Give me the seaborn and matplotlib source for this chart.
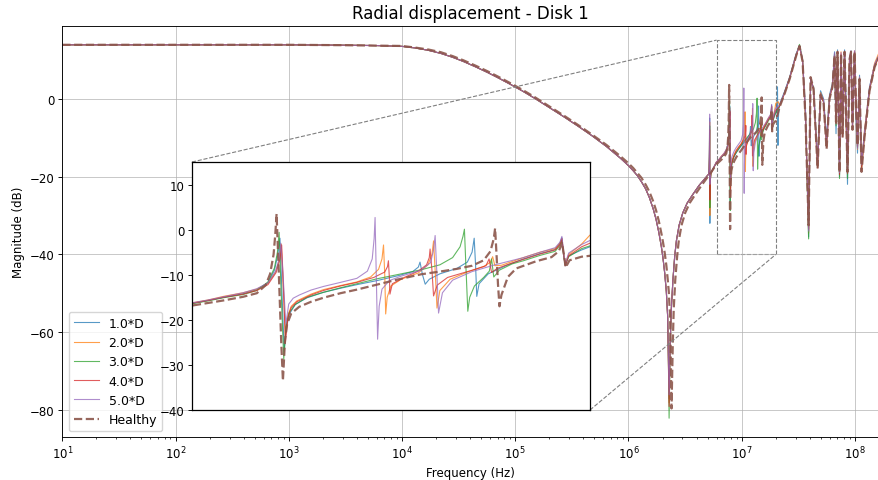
import seaborn as sns
import matplotlib.pyplot as plt
from mpl_toolkits.axes_grid1.inset_locator import mark_inset

# low-frequency plateau and roll-off
freq_low = [10, 100, 1e3, 3e3, 6e3, 1e4, 1.3e4, 1.7e4, 2.2e4, 2.8e4, 3.5e4, 4.5e4, 5.7e4,
            7.2e4, 9e4, 1.15e5, 1.5e5, 2e5, 2.7e5, 3.6e5, 4.8e5, 6.4e5, 8.5e5, 1e6, 1.1e6,
            1.2e6, 1.3e6, 1.42e6, 1.53e6, 1.65e6, 1.75e6, 1.85e6, 1.95e6, 2.02e6, 2.09e6,
            2.16e6, 2.22e6]
mag_low = [13.8, 13.8, 13.8, 13.7, 13.6, 13.4, 13.0, 12.4, 11.6, 10.6, 9.5, 8.1, 6.7,
           5.2, 3.7, 2.0, 0.0, -2.3, -4.7, -7.1, -9.6, -12.3, -15.3, -17.2, -18.5,
           -19.8, -21.3, -23.2, -25.4, -28.2, -30.9, -34.2, -37.9, -41.0, -44.8,
           -49.5, -56.0]
mag_low_healthy = [13.8, 13.8, 13.8, 13.7, 13.6, 13.5, 13.1, 12.6, 11.9, 10.9, 9.8, 8.4, 7.0,
                   5.5, 4.0, 2.3, 0.3, -2.0, -4.4, -6.8, -9.3, -11.9, -14.8, -16.6, -17.8,
                   -19.1, -20.3, -22.1, -23.9, -26.3, -28.6, -31.3, -34.5, -36.9, -39.6,
                   -42.8, -46.3]

# anti-resonance notch (damaged cases)
freq_notch = [2.25e6, 2.285e6, 2.335e6]
notch_d1 = [-66, -77, -63]
notch_d2 = [-66, -78, -63]
notch_d3 = [-66, -82, -63]
notch_d4 = [-66, -79, -63]
notch_d5 = [-66, -76, -63]

freq_rise = [2.39e6, 2.43e6, 2.47e6, 2.56e6, 2.65e6, 2.8e6, 3.02e6, 3.3e6, 3.7e6, 4.2e6,
             4.7e6, 5.1e6]
mag_rise = [-54, -50, -46.5, -40.5, -36.5, -32.5, -29.3, -26.8, -24.6, -22.3, -20.6, -19.4]

# zoomed band 5e6 - 2e7, one list per case
f_d1 = [5.15e6, 5.19e6, 5.21e6, 5.225e6, 5.235e6, 5.26e6, 5.35e6, 5.6e6, 5.97e6, 6.3e6, 6.6e6,
        7.0e6, 7.3e6, 7.55e6, 7.7e6, 7.78e6, 7.83e6, 7.87e6, 7.93e6, 7.98e6, 8.05e6, 8.2e6,
        8.5e6, 8.93e6, 9.4e6, 9.88e6, 1.05e7, 1.12e7, 1.17e7, 1.19e7, 1.196e7, 1.205e7,
        1.215e7, 1.23e7, 1.27e7, 1.337e7, 1.38e7, 1.4e7, 1.409e7, 1.415e7, 1.42e7, 1.43e7,
        1.47e7, 1.55e7, 1.635e7, 1.72e7, 1.8e7, 1.826e7, 1.837e7, 1.848e7, 1.856e7, 1.875e7,
        1.95e7, 2.0e7, 2.05e7, 2.065e7, 2.07e7, 2.08e7, 2.09e7, 2.11e7, 2.13e7]
m_d1 = [-18, -13, -5, -20, -32, -21.5, -19.2, -17.9, -16.4, -15.7, -15.0,
        -14.2, -13.3, -11.8, -9, -5.5, -1.9, -12, -27, -22, -18.8, -16.6,
        -15.1, -13.9, -13.0, -12.2, -11.3, -10.2, -9.3, -8.3, -7.2, -10,
        -12.1, -11, -9.8, -8.6, -7.2, -5.0, -1.9, -8, -14.8, -12,
        -9.8, -8.0, -6.5, -5.3, -4.4, -3, -1.8, -6, -8, -5.8,
        -4.5, -3.8, -2.3, 0, 3, -5, -12, -5, -3.0]

f_d2 = [5.15e6, 5.19e6, 5.21e6, 5.225e6, 5.235e6, 5.26e6, 5.35e6, 5.6e6, 5.97e6, 6.3e6, 6.6e6,
        7.0e6, 7.3e6, 7.55e6, 7.72e6, 7.82e6, 7.86e6, 7.9e6, 7.96e6, 8.02e6, 8.1e6, 8.24e6,
        8.6e6, 8.93e6, 9.4e6, 9.88e6, 1.03e7, 1.055e7, 1.066e7, 1.071e7, 1.075e7, 1.078e7,
        1.083e7, 1.095e7, 1.13e7, 1.19e7, 1.225e7, 1.24e7, 1.246e7, 1.252e7, 1.259e7, 1.27e7,
        1.31e7, 1.38e7, 1.45e7, 1.48e7, 1.49e7, 1.5e7, 1.53e7, 1.635e7, 1.72e7, 1.8e7,
        1.826e7, 1.837e7, 1.848e7, 1.856e7, 1.875e7, 1.95e7, 2.0e7, 2.1e7]
m_d2 = [-18.2, -14, -6, -18, -30, -21.5, -19.2, -17.9, -16.3, -15.6, -14.8,
        -14.0, -13.2, -11.9, -9.5, -6.5, -3.2, -11, -23, -19, -17, -15.8,
        -14.3, -13.3, -12.4, -11.6, -10.5, -8.8, -6.5, -3.4, -10, -18.7,
        -15, -12.5, -11, -9.6, -7.8, -5.5, -2.5, -9, -17.4, -13.5,
        -11, -9.4, -8.2, -7.2, -6.0, -8.0, -7.9, -6.2, -5.0, -4.2,
        -3.0, -2.0, -5.5, -7.5, -5.5, -3.2, -1.2, -0.8]

f_d3 = [5.15e6, 5.19e6, 5.21e6, 5.225e6, 5.235e6, 5.26e6, 5.35e6, 5.6e6, 5.97e6, 6.3e6, 6.6e6,
        7.0e6, 7.3e6, 7.55e6, 7.7e6, 7.77e6, 7.81e6, 7.85e6, 7.92e6, 7.97e6, 8.05e6, 8.2e6,
        8.5e6, 8.93e6, 9.4e6, 9.88e6, 1.05e7, 1.115e7, 1.2e7, 1.27e7, 1.32e7, 1.35e7, 1.362e7,
        1.368e7, 1.374e7, 1.382e7, 1.39e7, 1.41e7, 1.45e7, 1.475e7, 1.485e7, 1.495e7, 1.52e7,
        1.58e7, 1.635e7, 1.72e7, 1.8e7, 1.826e7, 1.837e7, 1.848e7, 1.856e7, 1.875e7, 1.95e7,
        2.0e7, 2.1e7]
m_d3 = [-18.4, -15, -7, -17, -28, -21.5, -19.2, -18.1, -16.5, -15.8, -15.1,
        -14.4, -13.5, -11.6, -8.5, -5, -0.6, -12, -28.7, -21.5, -18.4, -16.6,
        -15.0, -13.9, -12.9, -12.0, -10.9, -10.0, -8.9, -7.8, -6.2, -3.8, -1.5,
        0.1, -8, -18.1, -15, -12.5, -10.6, -9.2, -6.5, -10.5, -9.0,
        -7.6, -6.9, -5.7, -4.8, -3.5, -2.3, -6, -7.8, -6.0, -4.2,
        -3.6, -2.6]

f_d4 = [5.15e6, 5.19e6, 5.21e6, 5.225e6, 5.235e6, 5.26e6, 5.35e6, 5.6e6, 5.97e6, 6.3e6, 6.6e6,
        7.0e6, 7.3e6, 7.55e6, 7.74e6, 7.83e6, 7.87e6, 7.91e6, 7.96e6, 8.02e6, 8.1e6, 8.24e6,
        8.6e6, 8.93e6, 9.4e6, 9.88e6, 1.04e7, 1.075e7, 1.084e7, 1.087e7, 1.09e7, 1.092e7,
        1.1e7, 1.14e7, 1.19e7, 1.22e7, 1.23e7, 1.233e7, 1.24e7, 1.246e7, 1.26e7, 1.3e7, 1.4e7,
        1.46e7, 1.474e7, 1.485e7, 1.51e7, 1.58e7, 1.635e7, 1.72e7, 1.8e7, 1.826e7, 1.837e7,
        1.848e7, 1.856e7, 1.875e7, 1.95e7, 2.0e7, 2.1e7]
m_d4 = [-18.5, -15.5, -8, -16, -26, -21.5, -19.2, -18.1, -16.4, -15.7, -15.0,
        -14.3, -13.5, -12.2, -9.5, -6.5, -3.4, -12, -25, -19.5, -17.3, -16.0,
        -14.5, -13.5, -12.5, -11.7, -10.6, -9.4, -8.2, -6.9, -10.5, -14.3,
        -12, -10.6, -9.2, -7.8, -6.2, -4.3, -9, -14.7, -12.3, -10.6, -9.0,
        -8.0, -6.5, -9.5, -8.6, -7.4, -6.6, -5.4, -4.5, -3.3, -2.0,
        -6, -8, -5.8, -3.8, -3.0, -2.3]

f_d5 = [5.15e6, 5.19e6, 5.21e6, 5.225e6, 5.235e6, 5.26e6, 5.35e6, 5.6e6, 5.97e6, 6.3e6, 6.6e6,
        7.0e6, 7.3e6, 7.55e6, 7.73e6, 7.81e6, 7.85e6, 7.9e6, 7.97e6, 8.04e6, 8.15e6, 8.3e6,
        8.6e6, 8.93e6, 9.4e6, 9.88e6, 1.02e7, 1.035e7, 1.041e7, 1.044e7, 1.048e7, 1.052e7,
        1.057e7, 1.066e7, 1.09e7, 1.13e7, 1.2e7, 1.235e7, 1.246e7, 1.252e7, 1.258e7, 1.265e7,
        1.28e7, 1.32e7, 1.4e7, 1.5e7, 1.635e7, 1.72e7, 1.8e7, 1.826e7, 1.837e7, 1.848e7,
        1.856e7, 1.875e7, 1.95e7, 2.0e7, 2.1e7]
m_d5 = [-17.8, -12, -4, -14, -22, -20, -19.0, -17.9, -16.3, -15.6, -14.9,
        -14.0, -13.1, -11.8, -9.2, -6.5, -3.0, -9.5, -21, -16.5, -15.2, -14.5,
        -13.4, -12.6, -11.7, -10.8, -9.2, -6.5, -2.0, 2.7, -11, -24.3,
        -17, -13.2, -11.3, -10.3, -9.0, -7.3, -4.5, -1.3, -9, -18.5,
        -14, -11.2, -9.3, -7.8, -6.2, -5.0, -4.0, -2.8, -1.5, -5.5,
        -7.5, -5.2, -3.3, -2.4, -1.9]

# healthy case: notch, rise and zoomed band
f_h = [2.27e6, 2.332e6, 2.364e6, 2.40e6, 2.462e6, 2.51e6, 2.55e6, 2.59e6, 2.69e6, 2.78e6,
       2.94e6, 3.17e6, 3.47e6, 3.89e6, 4.41e6, 4.9e6, 5.4e6, 5.97e6, 6.6e6, 7.0e6, 7.3e6, 7.5e6,
       7.6e6, 7.68e6, 7.72e6, 7.75e6, 7.8e6, 7.86e6, 7.9e6, 7.95e6, 8.0e6, 8.1e6, 8.3e6, 8.6e6,
       8.93e6, 9.4e6, 9.88e6, 1.05e7, 1.115e7, 1.2e7, 1.27e7, 1.337e7, 1.4e7, 1.45e7, 1.48e7,
       1.495e7, 1.501e7, 1.508e7, 1.514e7, 1.521e7, 1.53e7, 1.56e7, 1.6e7, 1.7e7, 1.78e7,
       1.82e7, 1.838e7, 1.85e7, 1.858e7, 1.88e7, 1.95e7, 2.0e7]
m_h = [-49.5, -56, -66, -79.5, -63, -54, -50, -46.5, -40.5, -36.5,
       -32.5, -29.3, -26.8, -24.6, -22.3, -20.5, -18.8, -16.9, -15.7, -14.9, -14.1, -12.3,
       -9.8, -5.5, -1, 3.5, -9, -25, -33.5, -24.5, -21, -18.6, -17.1, -16.0,
       -15.1, -14.1, -13.3, -12.2, -11.1, -9.9, -9.3, -8.7, -8.0, -6.8, -4.8,
       -2.0, 0.3, -6, -12, -17.0, -14.5, -10.5, -8.6, -7.0, -6.1,
       -4.8, -2.9, -6, -8.4, -6.8, -6.0, -5.8]

# high-frequency band on a shared grid
freq_high = [2.16e7, 2.39e7, 2.65e7, 3.03e7, 3.24e7, 3.45e7, 3.66e7, 3.90e7, 4.06e7, 4.31e7,
             4.68e7, 4.97e7, 5.28e7, 5.62e7, 5.97e7, 6.34e7, 6.61e7, 6.81e7, 7.02e7, 7.31e7,
             7.54e7, 7.78e7, 8.10e7, 8.35e7, 8.60e7, 8.96e7, 9.24e7, 9.52e7, 9.92e7, 1.023e8,
             1.054e8, 1.098e8, 1.144e8, 1.215e8, 1.346e8, 1.490e8, 1.616e8]
high_d1 = [-1.5, 1.8, 5.5, 11.5, 13.6, 10, -3, -35.5, 4, 3, -16, 2, 0, -10, 1, 4, 12, -9, 12.5,
           -20, 11, -8, 12.5, -2, -22, 9, 11, -6, 11.5, -4, -14, 6, -16, -9, 3, 8.5, 10.8]
high_d2 = [-1.8, 1.5, 5.3, 11.3, 13.4, 9.8, -4, -34.5, 5, 2, -17, 1.5, -0.5, -11, 0.5, 3.5, 10.5,
           -4, 12, -18, 12, -9, 11.8, -6, -19, 10.5, 11.5, -7, 12.2, -1, -13, 5.5, -17.5, -8,
           2.5, 9, 11.5]
high_d3 = [-1.9, 1.4, 5.2, 11.2, 13.9, 9.7, -4.5, -36, 5, 2.8, -17.5, 0.5, -0.8, -12, 0.3, 3.2,
           11.5, -7, 11.8, -20.5, 11.2, -9.5, 12, -3, -20.5, 9.8, 12.2, -7.5, 11.8, -3, -12.5,
           5.2, -18, -9.5, 2.2, 8.2, 10.6]
high_d4 = [-2, 1.3, 5.1, 11.1, 13.5, 9.6, -4.8, -33.5, 5.2, 2.6, -17.8, 0.8, -0.9, -12.5, 0.1,
           3.1, 11.2, -6.5, 12.1, -19.5, 11.4, -9.8, 12.1, -4.5, -19.2, 10.2, 11.8, -7.8, 12,
           -2.5, -12.2, 5.1, -18.5, -9.8, 2.1, 8.1, 10.5]
high_d5 = [-1.7, 1.6, 5.4, 11.4, 13.6, 9.9, -3.5, -34, 5.4, 2.2, -16.5, 1.2, -0.3, -11.5, 0.6,
           3.4, 11.8, -5, 11.6, -19, 11.8, -8.5, 11.6, -3.5, -18.5, 10.4, 12.3, -7.2, 12.3,
           -1.5, -12.8, 5.6, -17, -8.5, 2.8, 8.8, 11]
high_h = [-2.2, 1.2, 5.0, 11.0, 13.5, 9.5, -5, -32.5, 5.5, 2.5, -18, 1, -1, -13, 0, 3, 11, -6,
          12, -19, 11.5, -10, 12, -4, -18.8, 10, 12, -8, 12, -2, -12, 5, -18.8, -10, 2, 8, 10.5]

labels = ["1.0*D", "2.0*D", "3.0*D", "4.0*D", "5.0*D"]
decades = [1e1, 1e2, 1e3, 1e4, 1e5, 1e6, 1e7, 1e8]
damaged = [(notch_d1, f_d1, m_d1, high_d1), (notch_d2, f_d2, m_d2, high_d2),
           (notch_d3, f_d3, m_d3, high_d3), (notch_d4, f_d4, m_d4, high_d4),
           (notch_d5, f_d5, m_d5, high_d5)]


def draw(ax):
    for i, (notch, f_band, m_band, m_high) in enumerate(damaged):
        x = freq_low + freq_notch + freq_rise + f_band + freq_high
        y = mag_low + notch + mag_rise + m_band + m_high
        sns.lineplot(x=x, y=y, ax=ax, color=f"C{i}", lw=0.8, alpha=0.75,
                     label=labels[i], estimator=None, sort=False)
    x = freq_low + f_h + freq_high
    y = mag_low_healthy + m_h + high_h
    sns.lineplot(x=x, y=y, ax=ax, color="C5", lw=1.6, ls="--", alpha=0.9,
                 label="Healthy", estimator=None, sort=False)


fig = plt.figure(figsize=(8.79, 4.81), dpi=100)
ax = fig.add_axes([0.0709, 0.0888, 0.928, 0.8557])
draw(ax)
ax.set_xscale("log")
ax.set_xticks(decades)
ax.set_xlim(10, 1.6e8)
ax.set_ylim(-86.9, 18.7)
ax.grid(True, alpha=0.7, lw=0.7)
ax.set_title("Radial displacement - Disk 1", fontsize=12, pad=5.5)
ax.set_xlabel("Frequency (Hz)", fontsize=8.5, labelpad=3.2)
ax.set_ylabel("Magnitude (dB)", fontsize=8.5, labelpad=3.2)
ax.tick_params(labelsize=8.5, length=2.8, pad=2.8, width=0.65)
ax.tick_params(which="minor", length=1.6, width=0.5)
for s in ax.spines.values():
    s.set_linewidth(0.65)
ax.legend(loc="lower left", fontsize=9)

axins = fig.add_axes([0.2184, 0.1455, 0.4528, 0.5156])
draw(axins)
axins.set_xscale("log")
axins.set_xlim(6e6, 2e7)
axins.set_ylim(-40, 15)
axins.set_xticks([])
axins.set_xticks([], minor=True)
axins.set_xlabel("")
axins.set_ylabel("")
axins.tick_params(labelsize=8.5, length=2.8, pad=2.8, width=0.65)
for s in axins.spines.values():
    s.set_linewidth(0.9)
axins.get_legend().remove()
mark_inset(ax, axins, loc1=2, loc2=4, fc="none", ec="0.5", ls="--", lw=0.8)

plt.savefig("out.png")
